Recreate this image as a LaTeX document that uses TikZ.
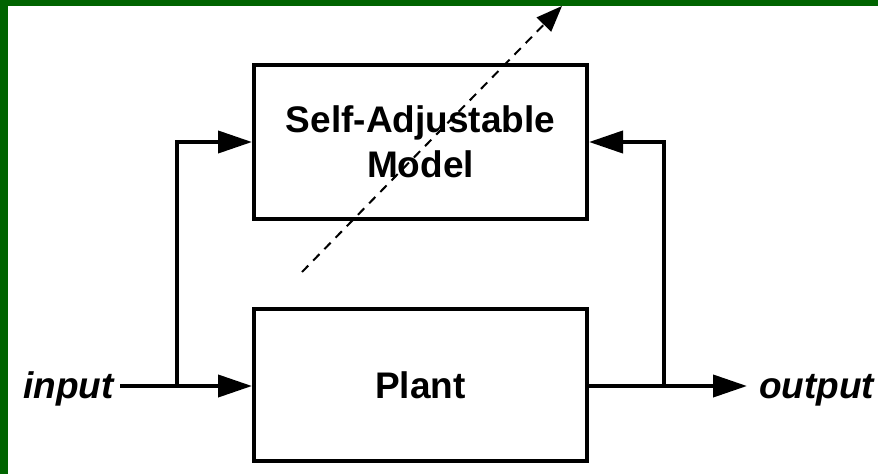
\documentclass[tikz,border=0pt]{standalone}
\usepackage{fontspec}
\setmainfont{Liberation Sans}
\usetikzlibrary{arrows.meta}
\definecolor{frame}{HTML}{006400}
\begin{document}
\begin{tikzpicture}[x=1pt,y=-1pt,
  block/.style={draw, line width=4pt, minimum width=333pt, inner sep=0pt,
    font=\fontsize{37}{45}\selectfont\bfseries, align=center},
  signal/.style={line width=4pt, -{Triangle[length=34pt,width=22pt]}},
  wire/.style={line width=4pt},
  iolabel/.style={inner sep=0pt, font=\fontsize{37}{40}\selectfont\bfseries\itshape},
  adjust/.style={line width=2pt, dash pattern=on 9pt off 7pt,
    -{Triangle[length=26pt,width=20pt]}}]
\useasboundingbox (0,0) rectangle (878,474);
\fill[white] (0,0) rectangle (878,474);

% blocks
\node[block, minimum height=154pt] (model) at (420.5,142) {Self-Adjustable\\Model};
\node[block, minimum height=152pt] (plant) at (420.5,385) {Plant};

% signal labels
\node[iolabel, anchor=base east] (in) at (114,398) {input};
\node[iolabel, anchor=base west] (out) at (759,398) {output};

% branch points and arrow ends
\coordinate (inj) at (177,386);
\coordinate (outj) at (664,386);
\coordinate (outend) at (747,386);
\coordinate (adjs) at (302,272);
\coordinate (adje) at (562,6);

% input path
\draw[wire] (in.east |- inj) ++(6,0) -- (inj);
\draw[signal] (inj) -- (plant.west |- inj);
\draw[signal] (inj) -- (inj |- model.west) -- (model.west);

% output path
\draw[wire] (plant.east |- outj) -- (outj);
\draw[signal] (outj) -- (outend);
\draw[signal] (outj) -- (outj |- model.east) -- (model.east);

% adjustment arrow across the model
\draw[adjust] (adjs) -- (adje);

% frame bands
\fill[frame] (0,0) rectangle (878,6);
\fill[frame] (0,0) rectangle (8,474);
\end{tikzpicture}
\end{document}
